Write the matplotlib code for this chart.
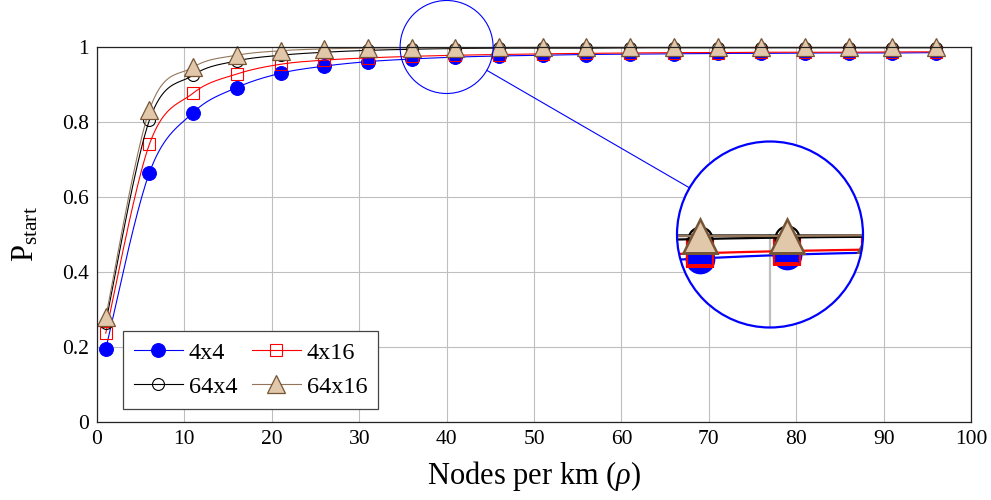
import numpy as np
import matplotlib
matplotlib.use("Agg")
import matplotlib.pyplot as plt
from matplotlib.patches import Circle, Ellipse
from matplotlib.lines import Line2D

plt.rcParams['font.family'] = ['Liberation Serif', 'DejaVu Serif']
plt.rcParams['mathtext.fontset'] = 'custom'
plt.rcParams['mathtext.rm'] = 'Liberation Serif'
plt.rcParams['mathtext.it'] = 'Liberation Serif:italic'

# node density (nodes per km)
rho = [1, 6, 11, 16, 21, 26, 31, 36, 41, 46, 51, 56, 61, 66, 71, 76, 81, 86, 91, 96]

# probability of a successful start, one list per configuration
p_4x4 = [0.195, 0.665, 0.825, 0.892, 0.930, 0.949, 0.961, 0.968, 0.973, 0.976,
         0.978, 0.980, 0.981, 0.982, 0.983, 0.983, 0.984, 0.984, 0.984, 0.985]
p_4x16 = [0.237, 0.741, 0.877, 0.928, 0.954, 0.965, 0.971, 0.975, 0.978, 0.980,
          0.982, 0.983, 0.984, 0.985, 0.985, 0.986, 0.986, 0.986, 0.987, 0.987]
p_64x4 = [0.265, 0.805, 0.925, 0.963, 0.978, 0.986, 0.991, 0.994, 0.996, 0.997,
          0.997, 0.997, 0.998, 0.998, 0.998, 0.998, 0.998, 0.998, 0.998, 0.998]
p_64x16 = [0.280, 0.832, 0.946, 0.978, 0.990, 0.995, 0.997, 0.998, 0.998, 0.999,
           0.999, 0.999, 0.999, 0.999, 0.999, 0.999, 0.999, 0.999, 0.999, 0.999]

x_ticks = [0, 10, 20, 30, 40, 50, 60, 70, 80, 90, 100]
y_ticks = [0, 0.2, 0.4, 0.6, 0.8, 1.0]
y_ticklabels = ['0', '0.2', '0.4', '0.6', '0.8', '1']

brown_line = '#94755a'
brown_edge = '#765536'
brown_fill = '#e2c8aa'

styles = [
    ('4x4', p_4x4, dict(color='blue', marker='o', ms=10, mfc='blue', mec='blue', mew=0.7)),
    ('4x16', p_4x16, dict(color='red', marker='s', ms=9.3, mfc='none', mec='red', mew=0.8)),
    ('64x4', p_64x4, dict(color='black', marker='o', ms=8.6, mfc='none', mec='black', mew=0.8)),
    ('64x16', p_64x16, dict(color=brown_line, marker='^', ms=12.5, mfc=brown_fill, mec=brown_edge, mew=0.9)),
]


def smooth(x, y, n=24):
    # Catmull-Rom curve through the points, like pgfplots "smooth"
    x = np.asarray(x, float)
    y = np.asarray(y, float)
    px = np.concatenate([[x[0]], x, [x[-1]]])
    py = np.concatenate([[y[0]], y, [y[-1]]])
    t = np.linspace(0, 1, n, endpoint=False)
    xs, ys = [], []
    for i in range(1, len(px) - 2):
        for arr, out in ((px, xs), (py, ys)):
            p0, p1, p2, p3 = arr[i - 1], arr[i], arr[i + 1], arr[i + 2]
            out.extend(0.5 * (2 * p1 + (-p0 + p2) * t + (2 * p0 - 5 * p1 + 4 * p2 - p3) * t ** 2
                              + (-p0 + 3 * p1 - 3 * p2 + p3) * t ** 3))
    xs.append(x[-1])
    ys.append(y[-1])
    return np.array(xs), np.array(ys)


def draw_series(ax, scale=1.0, clip=None):
    for name, vals, st in styles:
        sx, sy = smooth(rho, vals)
        line, = ax.plot(sx, sy, color=st['color'], lw=0.8 * scale)
        mk, = ax.plot(rho, vals, ls='none', marker=st['marker'], ms=st['ms'] * scale,
                      mfc=st['mfc'], mec=st['mec'], mew=st['mew'] * scale)
        if clip is not None:
            line.set_clip_path(clip)
            mk.set_clip_path(clip)
        else:
            line.set_clip_on(False)
            mk.set_clip_on(False)


W, H = 991, 500
fig = plt.figure(figsize=(W / 100, H / 100), dpi=100)
ax = fig.add_axes([97 / W, 78 / H, 874 / W, 375 / H])

ax.set_xlim(0, 100)
ax.set_ylim(0, 1)
ax.set_xticks(x_ticks)
ax.set_yticks(y_ticks)
ax.set_yticklabels(y_ticklabels)
ax.grid(True, color='#bfbfbf', lw=0.8)
ax.set_axisbelow(True)
ax.tick_params(length=0, labelsize=15.5, pad=6)
for sp in ax.spines.values():
    sp.set_linewidth(0.9)
    sp.set_color('#222222')

draw_series(ax)

ax.set_xlabel(r'Nodes per km ($\rho$)', fontsize=22, labelpad=7)
ax.set_ylabel(r'$\mathrm{P}_{\mathrm{start}}$', fontsize=22, labelpad=15)

# legend filled row by row: 4x4, 4x16 / 64x4, 64x16
order = [0, 2, 1, 3]
handles = [Line2D([], [], color=st['color'], lw=0.8, marker=st['marker'], ms=st['ms'],
                  mfc=st['mfc'], mec=st['mec'], mew=st['mew']) for _, _, st in styles]
leg = ax.legend([handles[i] for i in order], [styles[i][0] for i in order], ncol=2,
                loc='lower left', bbox_to_anchor=(0.03, 0.035), fontsize=17.5, frameon=True,
                fancybox=False, edgecolor='#444444', framealpha=1, handlelength=2.0,
                handletextpad=0.25, columnspacing=0.6, borderpad=0.45, labelspacing=0.5,
                borderaxespad=0)
leg.get_frame().set_linewidth(0.9)

# spy: source circle around (40, 1) magnified 2x into a circle around (77, 0.5)
src_x, src_y = 40, 1.0
r_src = 46.5
mag = 2.0
dst_px = (770, 500 - 234.5)
r_dst = r_src * mag

fig.canvas.draw()
sx_px, sy_px = ax.transData.transform((src_x, src_y))
px_per_x = ax.transData.transform((1, 0))[0] - ax.transData.transform((0, 0))[0]
px_per_y = ax.transData.transform((0, 1))[1] - ax.transData.transform((0, 0))[1]

fig.patches.append(Ellipse((sx_px / W, sy_px / H), 2 * r_src / W, 2 * r_src / H,
                           transform=fig.transFigure, fill=False, ec='blue', lw=0.8, zorder=5))

ins = fig.add_axes([(dst_px[0] - r_dst) / W, (dst_px[1] - r_dst) / H, 2 * r_dst / W, 2 * r_dst / H])
ins.set_xlim(src_x - r_src / px_per_x, src_x + r_src / px_per_x)
ins.set_ylim(src_y - r_src / px_per_y, src_y + r_src / px_per_y)
ins.axis('off')
disk = Circle((0.5, 0.5), 0.5, transform=ins.transAxes, fc='white', ec='none', zorder=0)
ins.add_patch(disk)
gl = ins.plot([40, 40], [0, 1], color='#bfbfbf', lw=1.6, zorder=1)[0]
gl.set_clip_path(disk)
fr = ins.plot([0, 100], [1, 1], color='#222222', lw=1.8, zorder=1)[0]
fr.set_clip_path(disk)
draw_series(ins, scale=mag, clip=disk)
ins.add_patch(Circle((0.5, 0.5), 0.5, transform=ins.transAxes, fill=False, ec='blue',
                     lw=1.6, zorder=10, clip_on=False))

# connector between the two circles
dx, dy = dst_px[0] - sx_px, dst_px[1] - sy_px
d = np.hypot(dx, dy)
ux, uy = dx / d, dy / d
fig.lines.append(Line2D([(sx_px + ux * r_src) / W, (dst_px[0] - ux * r_dst) / W],
                        [(sy_px + uy * r_src) / H, (dst_px[1] - uy * r_dst) / H],
                        transform=fig.transFigure, color='blue', lw=0.8))

fig.savefig('out.png', dpi=100)
